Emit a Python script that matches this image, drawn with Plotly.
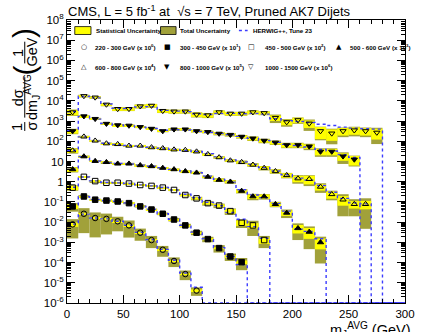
import plotly.graph_objects as go

# ---------------- data (normalised 1/sigma dsigma/dm, unscaled) ----------------
BIN_W = 10  # GeV
FLOOR = 1e-6

LABELS = ["220 - 300 GeV", "300 - 450 GeV", "450 - 500 GeV", "500 - 600 GeV",
          "600 - 800 GeV", "800 - 1000 GeV", "1000 - 1500 GeV"]
SCALES = [1, 1e1, 1e2, 1e3, 1e4, 1e5, 1e6]
EXPONENTS = ["0", "1", "2", "3", "4", "5", "6"]

data_220 = [7.8e-3, 2.6e-2, 1.6e-2, 1.45e-2, 1.1e-2, 6.9e-3, 3.0e-3, 1.3e-3, 4.3e-4, 1.2e-4, 2.7e-5, 4.1e-6]
data_300 = [6.0e-3, 1.86e-2, 1.29e-2, 1.17e-2, 1.05e-2, 8.7e-3, 6.0e-3, 4.2e-3, 2.6e-3, 1.35e-3, 6.9e-4,
            3.0e-4, 1.45e-4, 5.2e-5, 2.0e-5, 1.05e-5]
data_450 = [5.1e-3, 1.74e-2, 1.07e-2, 8.9e-3, 8.9e-3, 8.1e-3, 6.9e-3, 6.2e-3, 5.1e-3, 3.9e-3, 2.2e-3,
            1.5e-3, 8.7e-4, 6.6e-4, 3.5e-4, 9.3e-5, 6.9e-5, 1.3e-5]
data_500 = [4.1e-3, 1.78e-2, 1.05e-2, 9.3e-3, 7.8e-3, 7.8e-3, 6.5e-3, 5.8e-3, 4.8e-3, 4.1e-3, 3.3e-3,
            2.8e-3, 1.74e-3, 1.23e-3, 1.0e-3, 3.5e-4, 1.86e-4, 1.86e-4, 7.8e-5, 2.9e-5, 5.0e-6, 3.3e-6, 1.0e-6]
data_600 = [3.5e-3, 1.7e-2, 1.07e-2, 7.8e-3, 7.2e-3, 6.0e-3, 6.0e-3, 5.0e-3, 4.5e-3, 3.9e-3, 3.7e-3,
            3.1e-3, 2.3e-3, 1.6e-3, 1.12e-3, 9.3e-4, 6.9e-4, 4.8e-4, 3.3e-4, 2.1e-4, 1.45e-4, 1.35e-4,
            5.6e-5, 2.4e-5, 1.3e-5, 7.8e-6, 7.8e-6]
data_800 = [3.2e-3, 1.74e-2, 1.29e-2, 7.4e-3, 6.3e-3, 6.0e-3, 5.1e-3, 4.2e-3, 3.2e-3, 3.9e-3, 3.9e-3,
            3.2e-3, 2.9e-3, 2.4e-3, 2.1e-3, 1.7e-3, 1.38e-3, 1.07e-3, 8.7e-4, 6.5e-4, 6.5e-4, 5.6e-4,
            3.1e-4, 3.1e-4, 1.8e-4, 1.26e-4]
data_1000 = [2.75e-3, 1.74e-2, 1.48e-2, 6.6e-3, 4.0e-3, 4.0e-3, 5.4e-3, 5.8e-3, 3.2e-3, 3.0e-3, 3.0e-3,
             2.1e-3, 1.95e-3, 2.75e-3, 2.35e-3, 2.35e-3, 2.75e-3, 2.5e-3, 1.45e-3, 8.9e-4, 1.12e-3, 7.6e-4,
             3.2e-4, 2.45e-4, 3.2e-4, 3.5e-4, 3.2e-4, 2.7e-4]

# relative statistical and total uncertainties
stat_220 = [0.25, 0.08, 0.08, 0.08, 0.08, 0.08, 0.08, 0.1, 0.1, 0.12, 0.12, 0.15]
tot_220 = [0.8, 0.89, 0.89, 0.83, 0.68, 0.75, 0.6, 0.6, 0.55, 0.5, 0.5, 0.45]
stat_300 = [0.25, 0.06, 0.06, 0.06, 0.06, 0.06, 0.06, 0.06, 0.06, 0.08, 0.08, 0.1, 0.12, 0.12, 0.15, 0.2]
tot_300 = [0.45, 0.15, 0.12, 0.12, 0.12, 0.12, 0.12, 0.12, 0.15, 0.2, 0.2, 0.25, 0.3, 0.4, 0.4, 0.6]
stat_450 = [0.25, 0.08, 0.08, 0.08, 0.08, 0.08, 0.08, 0.08, 0.08, 0.1, 0.12, 0.12, 0.15, 0.15, 0.25, 0.3, 0.3, 0.35]
tot_450 = [0.3, 0.1, 0.1, 0.1, 0.1, 0.1, 0.1, 0.1, 0.1, 0.12, 0.15, 0.2, 0.25, 0.25, 0.35, 0.45, 0.7, 0.6]
stat_500 = [0.25, 0.08, 0.08, 0.08, 0.08, 0.08, 0.08, 0.08, 0.08, 0.08, 0.1, 0.1, 0.12, 0.15, 0.15, 0.2,
            0.25, 0.25, 0.25, 0.3, 0.45, 0.55, 0.55]
tot_500 = [0.3, 0.1, 0.1, 0.1, 0.1, 0.1, 0.1, 0.1, 0.1, 0.1, 0.12, 0.12, 0.15, 0.2, 0.2, 0.25,
           0.35, 0.3, 0.3, 0.45, 0.74, 0.86, 0.91]
stat_600 = [0.25, 0.08, 0.08, 0.08, 0.08, 0.08, 0.08, 0.08, 0.08, 0.08, 0.1, 0.1, 0.1, 0.12, 0.12, 0.15,
            0.15, 0.2, 0.2, 0.25, 0.35, 0.45, 0.35, 0.4, 0.5, 0.4, 0.45]
tot_600 = [0.3, 0.1, 0.1, 0.1, 0.1, 0.1, 0.1, 0.1, 0.1, 0.1, 0.12, 0.12, 0.12, 0.15, 0.15, 0.2,
           0.2, 0.25, 0.25, 0.3, 0.45, 0.55, 0.5, 0.5, 0.85, 0.75, 0.94]
stat_800 = [0.25, 0.1, 0.1, 0.1, 0.1, 0.1, 0.1, 0.1, 0.1, 0.12, 0.12, 0.12, 0.12, 0.15, 0.15, 0.15,
            0.2, 0.2, 0.2, 0.25, 0.25, 0.25, 0.35, 0.35, 0.4, 0.5]
tot_800 = [0.3, 0.12, 0.12, 0.12, 0.12, 0.12, 0.12, 0.12, 0.12, 0.15, 0.15, 0.15, 0.15, 0.18, 0.18, 0.2,
           0.25, 0.25, 0.25, 0.3, 0.3, 0.35, 0.45, 0.45, 0.58, 0.55]
stat_1000 = [0.3, 0.12, 0.12, 0.15, 0.2, 0.2, 0.2, 0.2, 0.2, 0.2, 0.2, 0.25, 0.25, 0.2, 0.2, 0.2,
             0.2, 0.2, 0.3, 0.3, 0.3, 0.4, 0.6, 0.57, 0.4, 0.4, 0.4, 0.55]
tot_1000 = [0.35, 0.15, 0.15, 0.18, 0.22, 0.22, 0.22, 0.22, 0.22, 0.22, 0.22, 0.28, 0.28, 0.22, 0.22, 0.22,
            0.22, 0.22, 0.45, 0.41, 0.35, 0.57, 0.65, 0.71, 0.5, 0.5, 0.5, 0.73]

# HERWIG++ Tune 23 prediction
hw_220 = [8.0e-3, 2.5e-2, 1.6e-2, 1.45e-2, 1.1e-2, 7.0e-3, 3.1e-3, 1.35e-3, 4.5e-4, 1.3e-4, 3.0e-5, 6.0e-6]
hw_300 = [6.2e-3, 1.8e-2, 1.3e-2, 1.15e-2, 1.05e-2, 8.8e-3, 6.2e-3, 4.3e-3, 2.6e-3, 1.4e-3, 7.0e-4,
          3.2e-4, 1.5e-4, 5.5e-5, 2.0e-5, 8.0e-6]
hw_450 = [5.3e-3, 1.7e-2, 1.1e-2, 9.2e-3, 8.8e-3, 8.2e-3, 7.0e-3, 6.2e-3, 5.2e-3, 3.9e-3, 2.4e-3,
          1.6e-3, 9.5e-4, 6.5e-4, 3.0e-4, 1.4e-4, 6.0e-5, 1.6e-5]
hw_500 = [4.2e-3, 1.75e-2, 1.05e-2, 9.0e-3, 8.0e-3, 7.5e-3, 6.6e-3, 5.8e-3, 4.9e-3, 4.1e-3, 3.4e-3,
          2.8e-3, 1.9e-3, 1.3e-3, 9.5e-4, 4.0e-4, 2.2e-4, 1.6e-4, 8.5e-5, 3.5e-5, 4.5e-6, 3.5e-6, 1.5e-6]
hw_600 = [3.6e-3, 1.65e-2, 1.05e-2, 8.0e-3, 7.0e-3, 6.2e-3, 5.8e-3, 5.1e-3, 4.5e-3, 4.0e-3, 3.6e-3,
          3.1e-3, 2.4e-3, 1.7e-3, 1.2e-3, 9.5e-4, 7.2e-4, 5.0e-4, 3.4e-4, 2.2e-4, 1.5e-4, 1.2e-4,
          6.5e-5, 3.0e-5, 1.5e-5, 9.0e-6, 8.0e-6]
hw_800 = [3.4e-3, 1.7e-2, 1.25e-2, 7.6e-3, 6.4e-3, 5.8e-3, 5.0e-3, 4.3e-3, 3.5e-3, 3.7e-3, 3.6e-3,
          3.1e-3, 2.8e-3, 2.4e-3, 2.1e-3, 1.75e-3, 1.4e-3, 1.1e-3, 8.9e-4, 7.0e-4, 6.2e-4, 5.2e-4,
          4.0e-4, 3.3e-4, 2.2e-4, 1.6e-4]
hw_1000 = [2.9e-3, 1.7e-2, 1.4e-2, 7.0e-3, 4.3e-3, 4.2e-3, 5.0e-3, 5.2e-3, 3.4e-3, 3.1e-3, 2.9e-3,
           2.3e-3, 2.1e-3, 2.4e-3, 2.4e-3, 2.3e-3, 2.4e-3, 2.2e-3, 1.3e-3, 1.05e-3, 9.5e-4, 8.5e-4,
           7.0e-4, 6.0e-4, 5.0e-4, 4.5e-4, 4.2e-4, 4.0e-4]

DATA = [data_220, data_300, data_450, data_500, data_600, data_800, data_1000]
STAT = [stat_220, stat_300, stat_450, stat_500, stat_600, stat_800, stat_1000]
TOT = [tot_220, tot_300, tot_450, tot_500, tot_600, tot_800, tot_1000]
HW = [hw_220, hw_300, hw_450, hw_500, hw_600, hw_800, hw_1000]
SYMBOLS = ["circle-open", "square", "square-open", "triangle-up", "triangle-up-open",
           "triangle-down", "triangle-down-open"]
GLYPHS = ["○", "■", "□", "▲", "△", "▼", "▽"]

YELLOW = "#ffff00"
OLIVE = "#a1a13a"
BLUE = "#3c3cff"
FONT = "Liberation Sans, Arial, sans-serif"

# ---------------- geometry helpers ----------------
W, H = 427, 332
ML, MR, MT, MB = 67, 12, 16, 29
PW, PH = W - ML - MR, H - MT - MB


def px(x):
    return (x - ML) / PW


def py(y):
    return (H - MB - y) / PH


fig = go.Figure()


def centers(n):
    return [BIN_W * (k + 0.5) for k in range(n)]


# total uncertainty boxes, then statistical ones
for errs, col in ((TOT, OLIVE), (STAT, YELLOW)):
    for vals, ee, sc in zip(DATA, errs, SCALES):
        v = [a * sc for a in vals]
        lo = [max(a * (1 - e), FLOOR * 0.5) for a, e in zip(v, ee)]
        hi = [a * (1 + e) for a, e in zip(v, ee)]
        fig.add_trace(go.Bar(x=centers(len(v)), y=[h - l for h, l in zip(hi, lo)], base=lo,
                             width=BIN_W, marker=dict(color=col, line=dict(width=0)),
                             showlegend=False, hoverinfo="skip"))

# HERWIG step histograms
for hv, sc in zip(HW, SCALES):
    n = len(hv)
    xs = [BIN_W * k for k in range(n + 1)] + [BIN_W * n, 300]
    ys = [a * sc for a in hv] + [hv[-1] * sc, FLOOR, FLOOR]
    fig.add_trace(go.Scatter(x=xs, y=ys, mode="lines", line=dict(color=BLUE, width=1.4, dash="dot", shape="hv"),
                             showlegend=False, hoverinfo="skip"))

# data markers
for vals, sc, sym in zip(DATA, SCALES, SYMBOLS):
    fig.add_trace(go.Scatter(x=centers(len(vals)), y=[a * sc for a in vals], mode="markers",
                             marker=dict(symbol=sym, size=5.5, color="black", line=dict(color="black", width=1)),
                             showlegend=False))

ann = []
shapes = []

# title
ann.append(dict(x=px(66), y=py(6.5), xref="paper", yref="paper", xanchor="left", yanchor="middle",
                text="CMS, L = 5 fb<sup>-1</sup> at  √s = 7 TeV, Pruned AK7 Dijets",
                showarrow=False, font=dict(family=FONT, size=13, color="black")))

# legend row 1
LF = dict(family=FONT, size=6.2, color="black")
shapes.append(dict(type="rect", xref="paper", yref="paper", x0=px(75), x1=px(91.7), y0=py(30.7), y1=py(22.7),
                   fillcolor=YELLOW, line=dict(color="black", width=0.8)))
shapes.append(dict(type="rect", xref="paper", yref="paper", x0=px(163.3), x1=px(179.3), y0=py(30.7), y1=py(22.7),
                   fillcolor=OLIVE, line=dict(color="black", width=0.8)))
shapes.append(dict(type="line", xref="paper", yref="paper", x0=px(244), x1=px(253), y0=py(26.7), y1=py(26.7),
                   line=dict(color=BLUE, width=1.4, dash="dot")))
for x, t in ((94.3, "Statistical Uncertainty"), (181.7, "Total Uncertainty"), (256.7, "HERWIG++, Tune 23")):
    ann.append(dict(x=px(x), y=py(26.7), xref="paper", yref="paper", xanchor="left", yanchor="middle",
                    text="<b>%s</b>" % t, showarrow=False, font=LF))

# legend rows 2-3
LPOS = [(85, 93.3, 43.3), (170, 181.7, 43.3), (256.7, 268.3, 43.3), (346.7, 356.7, 43.3),
        (85, 93.3, 63.3), (170, 181.7, 63.3), (256.7, 268.3, 63.3)]
for (mx, tx, ty), lab, ex, g in zip(LPOS, LABELS, EXPONENTS, GLYPHS):
    ann.append(dict(x=px(mx), y=py(ty), xref="paper", yref="paper", xanchor="center", yanchor="middle",
                    text=g, showarrow=False, font=dict(family="DejaVu Sans", size=7, color="black")))
    ann.append(dict(x=px(tx), y=py(ty), xref="paper", yref="paper", xanchor="left", yanchor="middle",
                    text="<b>%s (x 10<sup>%s</sup>)</b>" % (lab, ex), showarrow=False, font=LF))


def rot(x, y, t, size=14.5):
    ann.append(dict(x=px(x), y=py(y), xref="paper", yref="paper", xanchor="center", yanchor="middle",
                    text=t, textangle=-90, showarrow=False, font=dict(family=FONT, size=size, color="black")))


def bar(x, y0, y1):
    shapes.append(dict(type="line", xref="paper", yref="paper", x0=px(x), x1=px(x), y0=py(y0), y1=py(y1),
                       line=dict(color="black", width=1)))


# y axis title built from pieces (rotated)
rot(16, 124, "1")
bar(23.5, 119.5, 128.5)
rot(31, 124, "σ")
rot(16, 95, "dσ")
bar(23.5, 74, 115)
rot(31, 94, "dm<sub>J</sub><sup>AVG</sup>")
rot(23, 67, "(", 30)
rot(16, 49, "1")
bar(23.5, 38, 60)
rot(31, 49, "GeV")
rot(23, 29, ")", 30)

# x axis title
ann.append(dict(x=px(423), y=py(318), xref="paper", yref="paper", xanchor="right", yanchor="top",
                text="m<sub>J</sub><sup>AVG</sup> (GeV)", showarrow=False,
                font=dict(family=FONT, size=14.5, color="black")))

ytv = [10.0 ** k for k in range(-6, 9)]
ytt = []
for k in range(-6, 9):
    if k == 0:
        ytt.append("1")
    elif k == 1:
        ytt.append("10")
    else:
        ytt.append("10<sup>%d</sup>" % k)
yminor = [m * 10.0 ** k for k in range(-6, 8) for m in range(2, 10)]

fig.update_layout(
    width=W, height=H, margin=dict(l=ML, r=MR, t=MT, b=MB),
    paper_bgcolor="white", plot_bgcolor="white", barmode="overlay", showlegend=False,
    annotations=ann, shapes=shapes,
    font=dict(family=FONT, color="black"),
    xaxis=dict(range=[0, 300], tickvals=list(range(0, 301, 50)), ticks="inside", ticklen=8, tickwidth=1,
               tickcolor="black", showline=True, linecolor="black", linewidth=1, mirror="allticks",
               showgrid=False, zeroline=False, tickfont=dict(family=FONT, size=11.5),
               minor=dict(ticks="inside", ticklen=4, dtick=10, tickcolor="black", showgrid=False)),
    yaxis=dict(type="log", range=[-6, 8], tickvals=ytv, ticktext=ytt, ticks="inside", ticklen=8, tickwidth=1,
               tickcolor="black", showline=True, linecolor="black", linewidth=1, mirror="allticks",
               showgrid=False, zeroline=False, tickfont=dict(family=FONT, size=11.5),
               minor=dict(ticks="inside", ticklen=4, tickvals=yminor, tickcolor="black", showgrid=False)),
)

fig.write_html("out.html")
